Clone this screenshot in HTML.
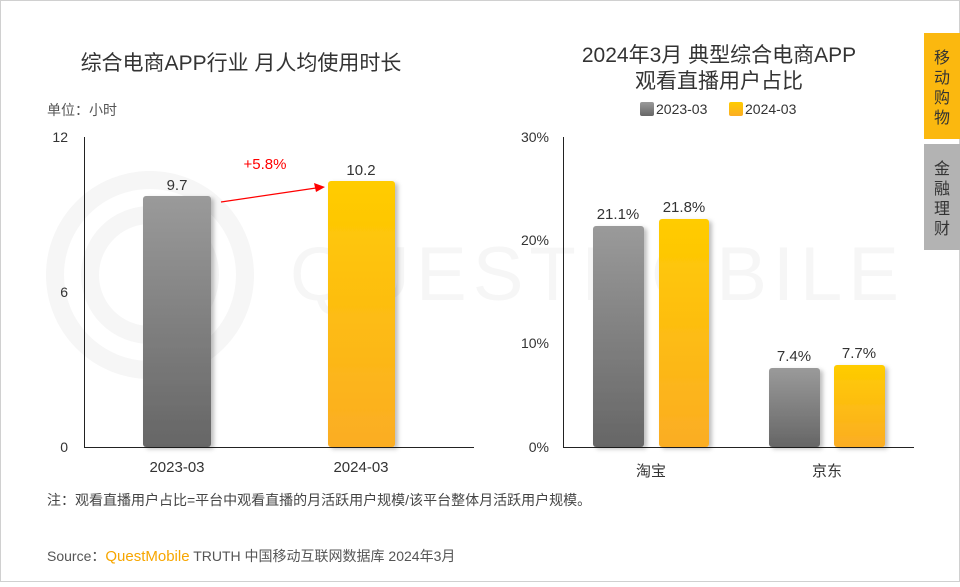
<!DOCTYPE html>
<html><head><meta charset="utf-8"><style>
body{margin:0;width:960px;height:582px;overflow:hidden;background:#fff;font-family:"Liberation Sans","Noto Sans CJK SC",sans-serif;}
</style></head><body>
<svg width="960" height="582" xmlns="http://www.w3.org/2000/svg" font-family="Liberation Sans, Noto Sans CJK SC, sans-serif">
<defs>
<linearGradient id="g" x1="0" y1="0" x2="0" y2="1"><stop offset="0" stop-color="#9a9a9a"/><stop offset="1" stop-color="#666"/></linearGradient>
<linearGradient id="y" x1="0" y1="0" x2="0" y2="1"><stop offset="0" stop-color="#ffcc00"/><stop offset="1" stop-color="#fbad24"/></linearGradient>
<filter id="s" x="-20%" y="-10%" width="150%" height="120%"><feDropShadow dx="3" dy="2" stdDeviation="2" flood-color="#000" flood-opacity="0.25"/></filter>
</defs>
<rect x="0.5" y="0.5" width="959" height="581" fill="#fff" stroke="#d0d0d0"/>
<g fill="none" stroke="#f6f6f6" stroke-width="18">
<circle cx="150" cy="275" r="95"/><circle cx="150" cy="275" r="60"/>
</g>
<text x="290" y="300" font-size="76" fill="#f6f6f6" letter-spacing="6">QUESTMOBILE</text>
<text x="241" y="70" font-size="21" fill="#333" text-anchor="middle">综合电商APP行业 月人均使用时长</text>
<text x="47" y="115" font-size="14" fill="#555">单位：小时</text>
<g font-size="14" fill="#333" text-anchor="end">
<text x="68" y="142">12</text><text x="68" y="297">6</text><text x="68" y="452">0</text></g>
<line x1="84.5" y1="137" x2="84.5" y2="447" stroke="#222"/>
<line x1="84" y1="447.5" x2="474" y2="447.5" stroke="#222"/>
<rect x="143" y="196" width="68" height="251" rx="3" fill="url(#g)" filter="url(#s)"/>
<rect x="328" y="181" width="67" height="266" rx="3" fill="url(#y)" filter="url(#s)"/>
<g font-size="15" fill="#333" text-anchor="middle">
<text x="177" y="190">9.7</text><text x="361" y="175">10.2</text>
<text x="177" y="472">2023-03</text><text x="361" y="472">2024-03</text></g>
<text x="265" y="169" font-size="15" fill="#f00" text-anchor="middle">+5.8%</text>
<line x1="221" y1="202" x2="316" y2="188" stroke="#f00" stroke-width="1.2"/>
<polygon points="325,187 314,183 316,192" fill="#f00"/>
<text x="719" y="62" font-size="21" fill="#333" text-anchor="middle">2024年3月 典型综合电商APP</text>
<text x="719" y="88" font-size="21" fill="#333" text-anchor="middle">观看直播用户占比</text>
<rect x="640" y="102" width="14" height="14" rx="2" fill="url(#g)"/>
<text x="656" y="114" font-size="14" fill="#333">2023-03</text>
<rect x="729" y="102" width="14" height="14" rx="2" fill="url(#y)"/>
<text x="745" y="114" font-size="14" fill="#333">2024-03</text>
<g font-size="14" fill="#333" text-anchor="end">
<text x="549" y="142">30%</text><text x="549" y="245">20%</text><text x="549" y="348">10%</text><text x="549" y="452">0%</text></g>
<line x1="563.5" y1="137" x2="563.5" y2="447" stroke="#222"/>
<line x1="563" y1="447.5" x2="914" y2="447.5" stroke="#222"/>
<rect x="593" y="226" width="51" height="221" rx="3" fill="url(#g)" filter="url(#s)"/>
<rect x="659" y="219" width="50" height="228" rx="3" fill="url(#y)" filter="url(#s)"/>
<rect x="769" y="368" width="51" height="79" rx="3" fill="url(#g)" filter="url(#s)"/>
<rect x="834" y="365" width="51" height="82" rx="3" fill="url(#y)" filter="url(#s)"/>
<g font-size="15" fill="#333" text-anchor="middle">
<text x="618" y="219">21.1%</text><text x="684" y="212">21.8%</text>
<text x="794" y="361">7.4%</text><text x="859" y="358">7.7%</text>
<text x="651" y="476">淘宝</text><text x="827" y="476">京东</text></g>
<rect x="924" y="33" width="36" height="106" fill="#fbb80f"/>
<rect x="924" y="144" width="36" height="106" fill="#b3b3b3"/>
<g font-size="16" fill="#333" text-anchor="middle">
<text x="942" y="63">移</text><text x="942" y="83">动</text><text x="942" y="103">购</text><text x="942" y="123">物</text>
<text x="942" y="174">金</text><text x="942" y="194">融</text><text x="942" y="214">理</text><text x="942" y="234">财</text></g>
<text x="47" y="505" font-size="14" fill="#444">注：观看直播用户占比=平台中观看直播的月活跃用户规模/该平台整体月活跃用户规模。</text>
<text x="47" y="561" font-size="14" fill="#555">Source：<tspan fill="#f7a600" font-size="15">QuestMobile</tspan> TRUTH 中国移动互联网数据库 2024年3月</text>
</svg>
</body></html>
